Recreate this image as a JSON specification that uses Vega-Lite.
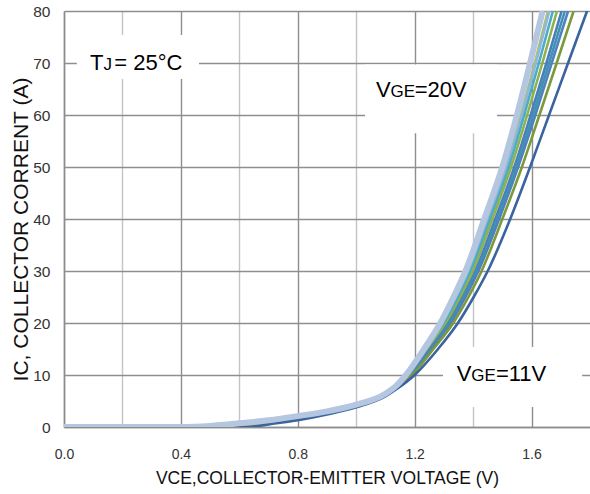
{
  "$schema": "https://vega.github.io/schema/vega-lite/v6.json",
  "width": 526,
  "height": 416,
  "autosize": {"type": "none"},
  "padding": {"left": 64, "top": 11, "right": 0, "bottom": 67},
  "background": "white",
  "config": {"view": {"stroke": null}, "font": "Liberation Sans"},
  "datasets": {
    "curves": [
      {"s":"c0","v":0,"i":0},{"s":"c0","v":0.4,"i":0},{"s":"c0","v":0.5,"i":0.2},{"s":"c0","v":0.6,"i":0.7},{"s":"c0","v":0.7,"i":1.3},{"s":"c0","v":0.8,"i":2.1},{"s":"c0","v":0.9,"i":3.0},{"s":"c0","v":1.0,"i":4.3},{"s":"c0","v":1.1,"i":6.4},{"s":"c0","v":1.14,"i":8.1},{"s":"c0","v":1.17,"i":10},{"s":"c0","v":1.232,"i":15},{"s":"c0","v":1.288,"i":20},{"s":"c0","v":1.333,"i":25},{"s":"c0","v":1.374,"i":30},{"s":"c0","v":1.438,"i":40},{"s":"c0","v":1.5,"i":50},{"s":"c0","v":1.55,"i":60},{"s":"c0","v":1.595,"i":70},{"s":"c0","v":1.638,"i":80},
      {"s":"c1","v":0,"i":0},{"s":"c1","v":0.4,"i":0},{"s":"c1","v":0.5,"i":0.18},{"s":"c1","v":0.6,"i":0.62},{"s":"c1","v":0.7,"i":1.2},{"s":"c1","v":0.8,"i":2.0},{"s":"c1","v":0.9,"i":2.93},{"s":"c1","v":1.0,"i":4.24},{"s":"c1","v":1.1,"i":6.34},{"s":"c1","v":1.14,"i":8.01},{"s":"c1","v":1.174,"i":10},{"s":"c1","v":1.238,"i":15},{"s":"c1","v":1.296,"i":20},{"s":"c1","v":1.342,"i":25},{"s":"c1","v":1.383,"i":30},{"s":"c1","v":1.449,"i":40},{"s":"c1","v":1.511,"i":50},{"s":"c1","v":1.563,"i":60},{"s":"c1","v":1.611,"i":70},{"s":"c1","v":1.656,"i":80},
      {"s":"c2","v":0,"i":0},{"s":"c2","v":0.4,"i":0},{"s":"c2","v":0.5,"i":0.17},{"s":"c2","v":0.6,"i":0.6},{"s":"c2","v":0.7,"i":1.18},{"s":"c2","v":0.8,"i":1.98},{"s":"c2","v":0.9,"i":2.91},{"s":"c2","v":1.0,"i":4.23},{"s":"c2","v":1.1,"i":6.33},{"s":"c2","v":1.14,"i":7.99},{"s":"c2","v":1.175,"i":10},{"s":"c2","v":1.24,"i":15},{"s":"c2","v":1.298,"i":20},{"s":"c2","v":1.344,"i":25},{"s":"c2","v":1.386,"i":30},{"s":"c2","v":1.451,"i":40},{"s":"c2","v":1.514,"i":50},{"s":"c2","v":1.567,"i":60},{"s":"c2","v":1.615,"i":70},{"s":"c2","v":1.661,"i":80},
      {"s":"c3","v":0,"i":0},{"s":"c3","v":0.4,"i":0},{"s":"c3","v":0.5,"i":0.15},{"s":"c3","v":0.6,"i":0.54},{"s":"c3","v":0.7,"i":1.12},{"s":"c3","v":0.8,"i":1.92},{"s":"c3","v":0.9,"i":2.86},{"s":"c3","v":1.0,"i":4.19},{"s":"c3","v":1.1,"i":6.29},{"s":"c3","v":1.14,"i":7.93},{"s":"c3","v":1.177,"i":10},{"s":"c3","v":1.243,"i":15},{"s":"c3","v":1.303,"i":20},{"s":"c3","v":1.35,"i":25},{"s":"c3","v":1.392,"i":30},{"s":"c3","v":1.458,"i":40},{"s":"c3","v":1.522,"i":50},{"s":"c3","v":1.575,"i":60},{"s":"c3","v":1.625,"i":70},{"s":"c3","v":1.673,"i":80},
      {"s":"c4","v":0,"i":0},{"s":"c4","v":0.4,"i":0},{"s":"c4","v":0.5,"i":0.14},{"s":"c4","v":0.6,"i":0.48},{"s":"c4","v":0.7,"i":1.04},{"s":"c4","v":0.8,"i":1.84},{"s":"c4","v":0.9,"i":2.81},{"s":"c4","v":1.0,"i":4.14},{"s":"c4","v":1.1,"i":6.24},{"s":"c4","v":1.14,"i":7.86},{"s":"c4","v":1.18,"i":10},{"s":"c4","v":1.247,"i":15},{"s":"c4","v":1.309,"i":20},{"s":"c4","v":1.357,"i":25},{"s":"c4","v":1.399,"i":30},{"s":"c4","v":1.466,"i":40},{"s":"c4","v":1.53,"i":50},{"s":"c4","v":1.585,"i":60},{"s":"c4","v":1.637,"i":70},{"s":"c4","v":1.687,"i":80},
      {"s":"c5","v":0,"i":0},{"s":"c5","v":0.4,"i":0},{"s":"c5","v":0.5,"i":0.11},{"s":"c5","v":0.6,"i":0.4},{"s":"c5","v":0.7,"i":0.96},{"s":"c5","v":0.8,"i":1.76},{"s":"c5","v":0.9,"i":2.74},{"s":"c5","v":1.0,"i":4.09},{"s":"c5","v":1.1,"i":6.19},{"s":"c5","v":1.14,"i":7.78},{"s":"c5","v":1.183,"i":10},{"s":"c5","v":1.252,"i":15},{"s":"c5","v":1.316,"i":20},{"s":"c5","v":1.365,"i":25},{"s":"c5","v":1.408,"i":30},{"s":"c5","v":1.476,"i":40},{"s":"c5","v":1.541,"i":50},{"s":"c5","v":1.597,"i":60},{"s":"c5","v":1.651,"i":70},{"s":"c5","v":1.703,"i":80},
      {"s":"c6","v":0,"i":0},{"s":"c6","v":0.4,"i":0},{"s":"c6","v":0.5,"i":0.1},{"s":"c6","v":0.6,"i":0.35},{"s":"c6","v":0.7,"i":0.9},{"s":"c6","v":0.8,"i":1.7},{"s":"c6","v":0.9,"i":2.7},{"s":"c6","v":1.0,"i":4.05},{"s":"c6","v":1.1,"i":6.15},{"s":"c6","v":1.14,"i":7.73},{"s":"c6","v":1.185,"i":10},{"s":"c6","v":1.255,"i":15},{"s":"c6","v":1.32,"i":20},{"s":"c6","v":1.369,"i":25},{"s":"c6","v":1.413,"i":30},{"s":"c6","v":1.483,"i":40},{"s":"c6","v":1.548,"i":50},{"s":"c6","v":1.605,"i":60},{"s":"c6","v":1.66,"i":70},{"s":"c6","v":1.714,"i":80},
      {"s":"c7","v":0,"i":0},{"s":"c7","v":0.4,"i":0},{"s":"c7","v":0.5,"i":0.09},{"s":"c7","v":0.6,"i":0.3},{"s":"c7","v":0.7,"i":0.84},{"s":"c7","v":0.8,"i":1.64},{"s":"c7","v":0.9,"i":2.66},{"s":"c7","v":1.0,"i":4.02},{"s":"c7","v":1.1,"i":6.12},{"s":"c7","v":1.14,"i":7.67},{"s":"c7","v":1.187,"i":10},{"s":"c7","v":1.258,"i":15},{"s":"c7","v":1.324,"i":20},{"s":"c7","v":1.374,"i":25},{"s":"c7","v":1.418,"i":30},{"s":"c7","v":1.489,"i":40},{"s":"c7","v":1.554,"i":50},{"s":"c7","v":1.613,"i":60},{"s":"c7","v":1.669,"i":70},{"s":"c7","v":1.725,"i":80},
      {"s":"c8","v":0,"i":0},{"s":"c8","v":0.4,"i":0},{"s":"c8","v":0.5,"i":0.06},{"s":"c8","v":0.6,"i":0.21},{"s":"c8","v":0.7,"i":0.74},{"s":"c8","v":0.8,"i":1.54},{"s":"c8","v":0.9,"i":2.58},{"s":"c8","v":1.0,"i":3.95},{"s":"c8","v":1.1,"i":6.05},{"s":"c8","v":1.14,"i":7.58},{"s":"c8","v":1.191,"i":10},{"s":"c8","v":1.264,"i":15},{"s":"c8","v":1.332,"i":20},{"s":"c8","v":1.384,"i":25},{"s":"c8","v":1.429,"i":30},{"s":"c8","v":1.5,"i":40},{"s":"c8","v":1.567,"i":50},{"s":"c8","v":1.627,"i":60},{"s":"c8","v":1.686,"i":70},{"s":"c8","v":1.744,"i":80},
      {"s":"c9","v":0,"i":0},{"s":"c9","v":0.6,"i":0},{"s":"c9","v":0.65,"i":0.1},{"s":"c9","v":0.7,"i":0.5},{"s":"c9","v":0.8,"i":1.3},{"s":"c9","v":0.9,"i":2.4},{"s":"c9","v":1.0,"i":3.8},{"s":"c9","v":1.1,"i":5.9},{"s":"c9","v":1.14,"i":7.35},{"s":"c9","v":1.2,"i":10},{"s":"c9","v":1.28,"i":15},{"s":"c9","v":1.348,"i":20},{"s":"c9","v":1.402,"i":25},{"s":"c9","v":1.45,"i":30},{"s":"c9","v":1.527,"i":40},{"s":"c9","v":1.595,"i":50},{"s":"c9","v":1.66,"i":60},{"s":"c9","v":1.725,"i":70},{"s":"c9","v":1.79,"i":80}
    ],
    "boxes": [
      {"v":0.044,"v2":0.462,"i":66.9,"i2":75.4},
      {"v":1.03,"v2":1.482,"i":56.5,"i2":69.7},
      {"v":1.297,"v2":1.773,"i":3.85,"i2":15.4}
    ],
    "big": [
      {"v":0.089,"i":68.6,"t":"T"},
      {"v":0.172,"i":68.6,"t":"= 25°C"},
      {"v":1.068,"i":63.4,"t":"V"},
      {"v":1.2,"i":63.4,"t":"=20V"},
      {"v":1.344,"i":8.9,"t":"V"},
      {"v":1.478,"i":8.9,"t":"=11V"}
    ],
    "small": [
      {"v":0.135,"i":68.6,"t":"J"},
      {"v":1.117,"i":63.4,"t":"GE"},
      {"v":1.394,"i":8.9,"t":"GE"}
    ]
  },
  "layer": [
    {
      "data": {"name": "boxes"},
      "mark": {"type": "rect", "fill": "white"},
      "encoding": {
        "x": {
          "field": "v", "type": "quantitative",
          "scale": {"domain": [0, 1.8], "nice": false, "zero": false},
          "axis": {
            "title": "VCE,COLLECTOR-EMITTER VOLTAGE (V)",
            "values": [0, 0.2, 0.4, 0.6, 0.8, 1.0, 1.2, 1.4, 1.6],
            "labelExpr": "round(datum.value * 10) % 4 == 0 ? format(datum.value, '.1f') : ''",
            "labelOverlap": false,
            "labelFlush": false,
            "ticks": false,
            "tickSize": 0,
            "labelPadding": 20,
            "labelFont": "Liberation Sans",
            "labelFontSize": 14,
            "labelColor": "#333333",
            "domainColor": "#8c8c8c",
            "domainWidth": 1.5,
            "gridColor": {"condition": {"test": "round(datum.value * 10) % 4 != 0", "value": "#c4c4c4"}, "value": "#8e8e8e"},
            "gridWidth": 1.4,
            "titleFont": "Liberation Sans",
            "titleFontSize": 17.5,
            "titleFontWeight": "normal",
            "titleColor": "#111111",
            "titleY": 51,
            "titleBaseline": "middle"
          }
        },
        "x2": {"field": "v2"},
        "y": {
          "field": "i", "type": "quantitative",
          "scale": {"domain": [0, 80], "nice": false},
          "axis": {
            "title": "IC, COLLECTOR CORRENT (A)",
            "values": [0, 10, 20, 30, 40, 50, 60, 70, 80],
            "ticks": false,
            "tickSize": 0,
            "labelPadding": 14,
            "labelFont": "Liberation Sans",
            "labelFontSize": 15.5,
            "labelColor": "#333333",
            "domainColor": "#8c8c8c",
            "domainWidth": 1.5,
            "gridColor": "#8e8e8e",
            "gridWidth": 1.4,
            "titleFont": "Liberation Sans",
            "titleFontSize": 21,
            "titleFontWeight": "normal",
            "titleColor": "#111111",
            "titleX": -43,
            "titleY": 218,
            "titleAngle": -90,
            "titleBaseline": "middle"
          }
        },
        "y2": {"field": "i2"}
      }
    },
    {
      "data": {"name": "curves"},
      "transform": [{"filter": "datum.s != 'c0'"}],
      "mark": {"type": "line", "strokeWidth": 2.6, "interpolate": "monotone", "clip": true},
      "encoding": {
        "x": {"field": "v", "type": "quantitative"},
        "y": {"field": "i", "type": "quantitative"},
        "color": {
          "field": "s", "type": "nominal", "legend": null,
          "scale": {
            "domain": ["c0","c1","c2","c3","c4","c5","c6","c7","c8","c9"],
            "range": ["#B4C6E0","#A8C46A","#93B5DA","#4BACC6","#8FB24E","#4A7EBB","#3E93B5","#4F81BD","#7A9A3C","#3A64A0"]
          }
        },
        "order": {"field": "v"}
      }
    },
    {
      "data": {"name": "curves"},
      "transform": [{"filter": "datum.s == 'c0'"}],
      "mark": {"type": "line", "strokeWidth": 6, "interpolate": "monotone", "clip": true},
      "encoding": {
        "x": {"field": "v", "type": "quantitative"},
        "y": {"field": "i", "type": "quantitative"},
        "color": {"field": "s", "type": "nominal", "legend": null},
        "order": {"field": "v"}
      }
    },
    {
      "mark": {"type": "rule", "color": "#5B8CCB", "strokeWidth": 1.6},
      "encoding": {"y": {"datum": 80}}
    },
    {
      "data": {"name": "big"},
      "mark": {"type": "text", "align": "left", "baseline": "alphabetic", "font": "Liberation Sans", "fontSize": 22, "color": "#000000"},
      "encoding": {
        "x": {"field": "v", "type": "quantitative"},
        "y": {"field": "i", "type": "quantitative"},
        "text": {"field": "t"}
      }
    },
    {
      "data": {"name": "small"},
      "mark": {"type": "text", "align": "left", "baseline": "alphabetic", "font": "Liberation Sans", "fontSize": 17, "color": "#000000"},
      "encoding": {
        "x": {"field": "v", "type": "quantitative"},
        "y": {"field": "i", "type": "quantitative"},
        "text": {"field": "t"}
      }
    }
  ]
}
